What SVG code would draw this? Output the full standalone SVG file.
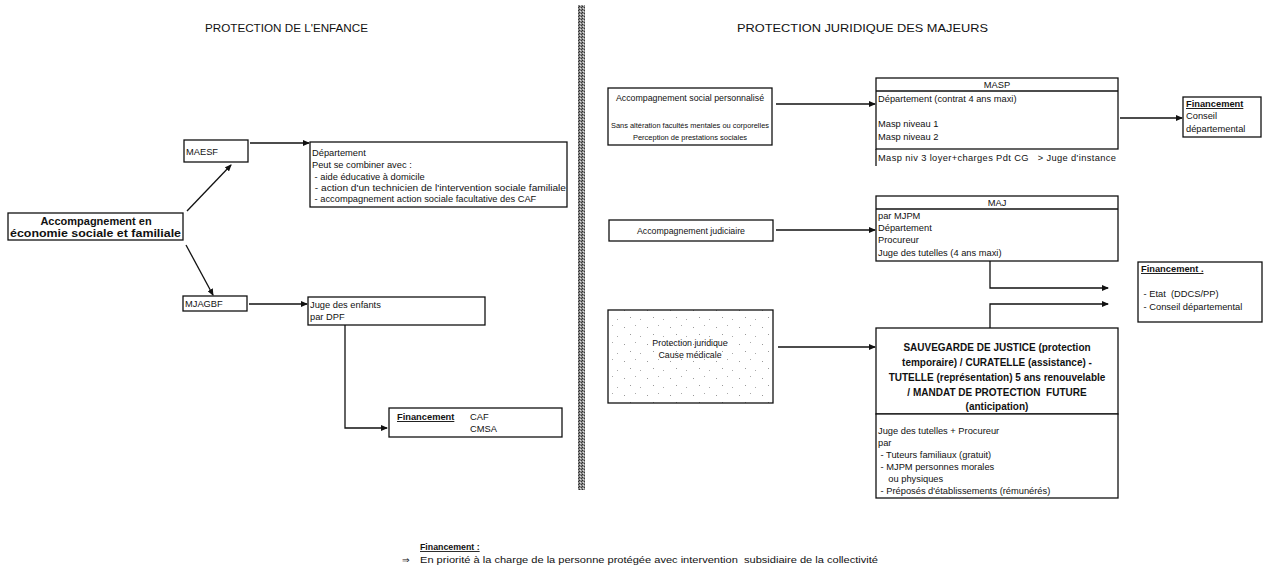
<svg xmlns="http://www.w3.org/2000/svg" width="1277" height="578" viewBox="0 0 1277 578">
<defs>
<style>
.box{fill:#fff;stroke:#111;stroke-width:1.3}
.ln{fill:none;stroke:#111;stroke-width:1.3}
.t{font-family:"Liberation Sans",Arial,sans-serif;font-size:9.3px;fill:#111;white-space:pre}
.b{font-weight:bold}
.u{text-decoration:underline}
.c{text-anchor:middle}
.ti{font-size:11px}
</style>
<marker id="ah" markerWidth="7" markerHeight="6" refX="6" refY="3" orient="auto" markerUnits="userSpaceOnUse">
<path d="M0,0 L7,3 L0,6 Z" fill="#111"/>
</marker>
<pattern id="ht" width="3" height="3" patternUnits="userSpaceOnUse">
<rect width="3" height="3" fill="#8c8c8c"/>
<rect width="1" height="1" fill="#2a2a2a"/>
<rect x="2" y="1" width="1" height="1" fill="#3a3a3a"/>
<rect x="1" y="2" width="1" height="1" fill="#e0e0e0"/>
</pattern>
<pattern id="speck" width="23" height="17" patternUnits="userSpaceOnUse">
<rect width="23" height="17" fill="#fff"/>
<rect x="3" y="4" width="1" height="1" fill="#999"/>
<rect x="14" y="2" width="1" height="1" fill="#aaa"/>
<rect x="9" y="11" width="1" height="1" fill="#999"/>
<rect x="19" y="13" width="1" height="1" fill="#aaa"/>
</pattern>
</defs>
<rect width="1277" height="578" fill="#fff"/>

<!-- titles -->
<text class="t ti" x="205" y="32" textLength="163" lengthAdjust="spacingAndGlyphs">PROTECTION DE L'ENFANCE</text>
<text class="t ti" x="737" y="32" textLength="251" lengthAdjust="spacingAndGlyphs">PROTECTION JURIDIQUE DES MAJEURS</text>

<!-- divider -->
<rect id="divider" x="578" y="5" width="7" height="485" fill="url(#ht)"/>

<!-- connectors -->
<g id="connectors">
<line class="ln" x1="187" y1="211" x2="231" y2="165" marker-end="url(#ah)"/>
<line class="ln" x1="186" y1="245" x2="213" y2="295" marker-end="url(#ah)"/>
<line class="ln" x1="250" y1="143" x2="309" y2="143" marker-end="url(#ah)"/>
<line class="ln" x1="249" y1="304" x2="307" y2="304" marker-end="url(#ah)"/>
<polyline class="ln" points="345,325 345,428 387,428" marker-end="url(#ah)"/>
<line class="ln" x1="776" y1="104" x2="875" y2="104" marker-end="url(#ah)"/>
<line class="ln" x1="1120" y1="118" x2="1182" y2="118" marker-end="url(#ah)"/>
<line class="ln" x1="776" y1="230" x2="875" y2="230" marker-end="url(#ah)"/>
<polyline class="ln" points="990,261 990,288 1108,288" marker-end="url(#ah)"/>
<line class="ln" x1="778" y1="347" x2="875" y2="347" marker-end="url(#ah)"/>
<polyline class="ln" points="990,328 990,304 1108,304" marker-end="url(#ah)"/>
</g>

<!-- left side -->
<g id="accomp-esf">
<rect class="box" x="8" y="213" width="175" height="27"/>
<text class="t b c" x="96" y="225" style="font-size:11px">Accompagnement en</text>
<text class="t b" x="10" y="237" style="font-size:11px" textLength="171" lengthAdjust="spacingAndGlyphs">économie sociale et familiale</text>
</g>

<g id="maesf">
<rect class="box" x="184" y="140" width="64" height="22"/>
<text class="t" x="186" y="155">MAESF</text>
</g>

<g id="departement">
<rect class="box" x="310" y="142" width="257" height="65"/>
<text class="t" x="312" y="156">Département</text>
<text class="t" x="312" y="168">Peut se combiner avec :</text>
<text class="t" x="312" y="180"> - aide éducative à domicile</text>
<text class="t" x="312" y="191" textLength="254" lengthAdjust="spacingAndGlyphs"> - action d'un technicien de l'intervention sociale familiale</text>
<text class="t" x="312" y="202"> - accompagnement action sociale facultative des CAF</text>
</g>

<g id="mjagbf">
<rect class="box" x="183" y="296" width="64" height="15"/>
<text class="t" x="185" y="307">MJAGBF</text>
</g>

<g id="juge-enfants">
<rect class="box" x="308" y="297" width="177" height="28"/>
<text class="t" x="310" y="308">Juge des enfants</text>
<text class="t" x="310" y="320">par DPF</text>
</g>

<g id="financement-enfance">
<rect class="box" x="389" y="408" width="173" height="29"/>
<text class="t b u" x="397" y="420">Financement</text>
<text class="t" x="470" y="420">CAF</text>
<text class="t" x="470" y="432">CMSA</text>
</g>

<!-- right side -->
<g id="accomp-social">
<rect class="box" x="608" y="88" width="164" height="57"/>
<text class="t c" x="690" y="101" style="font-size:8.8px">Accompagnement social personnalisé</text>
<text class="t" x="611" y="128" style="font-size:7.5px" textLength="158" lengthAdjust="spacingAndGlyphs">Sans altération facultés mentales ou corporelles</text>
<text class="t c" x="690" y="140" style="font-size:7.5px">Perception de prestations sociales</text>
</g>

<g id="masp">
<rect class="box" x="876" y="78" width="242" height="71"/>
<line class="ln" x1="876" y1="91" x2="1118" y2="91"/>
<line class="ln" x1="876" y1="149" x2="876" y2="166"/>
<text class="t c" x="997" y="88">MASP</text>
<text class="t" x="878" y="102">Département (contrat 4 ans maxi)</text>
<text class="t" x="878" y="127">Masp niveau 1</text>
<text class="t" x="878" y="140">Masp niveau 2</text>
<text class="t" x="878" y="161" textLength="238" lengthAdjust="spacing">Masp niv 3 loyer+charges Pdt CG   &gt; Juge d'instance</text>
</g>

<g id="financement-masp">
<rect class="box" x="1183" y="97" width="78" height="40"/>
<text class="t b u" x="1186" y="107">Financement</text>
<text class="t" x="1186" y="119">Conseil</text>
<text class="t" x="1186" y="132">départemental</text>
</g>

<g id="accomp-judiciaire">
<rect class="box" x="609" y="220" width="164" height="21"/>
<text class="t c" x="691" y="234" style="font-size:8.8px">Accompagnement judiciaire</text>
</g>

<g id="maj">
<rect class="box" x="876" y="196" width="242" height="65"/>
<line class="ln" x1="876" y1="209" x2="1118" y2="209"/>
<text class="t c" x="997" y="206">MAJ</text>
<text class="t" x="878" y="219">par MJPM</text>
<text class="t" x="878" y="231">Département</text>
<text class="t" x="878" y="243">Procureur</text>
<text class="t" x="878" y="256">Juge des tutelles (4 ans maxi)</text>
</g>

<g id="financement-majeurs">
<rect class="box" x="1138" y="262" width="124" height="60"/>
<text class="t b u" x="1141" y="272">Financement .</text>
<text class="t" x="1141" y="297"> - Etat  (DDCS/PP)</text>
<text class="t" x="1141" y="310"> - Conseil départemental</text>
</g>

<g id="protection-juridique">
<rect class="box" x="608" y="310" width="165" height="93" fill="url(#speck)" style="fill:url(#speck)"/>
<text class="t c" x="690" y="346" style="font-size:8.8px">Protection juridique</text>
<text class="t c" x="690" y="358" style="font-size:8.8px">Cause médicale</text>
</g>

<g id="sauvegarde">
<rect class="box" x="876" y="328" width="242" height="86"/>
<rect class="box" x="876" y="414" width="242" height="84"/>
<text class="t b c" x="997" y="351" style="font-size:10px">SAUVEGARDE DE JUSTICE (protection</text>
<text class="t b c" x="997" y="366" style="font-size:10px">temporaire) / CURATELLE (assistance) -</text>
<text class="t b c" x="997" y="381" style="font-size:10px">TUTELLE (représentation) 5 ans renouvelable</text>
<text class="t b c" x="997" y="396" style="font-size:10px">/ MANDAT DE PROTECTION  FUTURE</text>
<text class="t b c" x="997" y="410" style="font-size:10px">(anticipation)</text>
<text class="t" x="878" y="434">Juge des tutelles + Procureur</text>
<text class="t" x="878" y="446">par</text>
<text class="t" x="878" y="458"> - Tuteurs familiaux (gratuit)</text>
<text class="t" x="878" y="470"> - MJPM personnes morales</text>
<text class="t" x="878" y="482">    ou physiques</text>
<text class="t" x="878" y="494"> - Préposés d'établissements (rémunérés)</text>
</g>

<!-- footer -->
<g id="footer">
<text class="t b u" x="420" y="550" style="font-size:8.8px">Financement :</text>
<text class="t" x="402" y="563" style="font-size:8.8px">⇒</text>
<text class="t" x="420" y="563" textLength="458" lengthAdjust="spacingAndGlyphs">En priorité à la charge de la personne protégée avec intervention  subsidiaire de la collectivité</text>
</g>
</svg>
